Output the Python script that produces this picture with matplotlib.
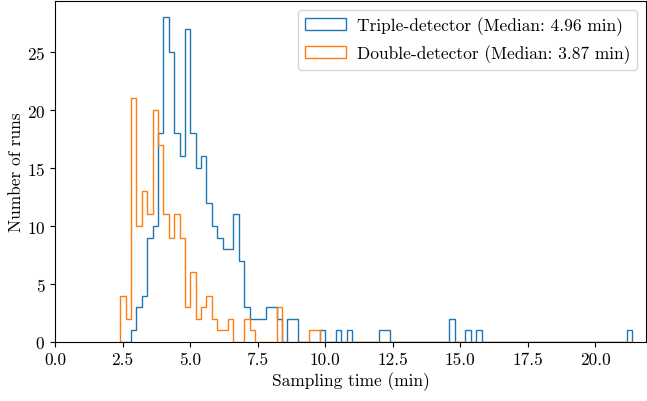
import numpy as np
import matplotlib
matplotlib.use("Agg")
import matplotlib.pyplot as plt

plt.rcParams['font.family'] = 'serif'
plt.rcParams['font.serif'] = ['cmr10', 'DejaVu Serif']
plt.rcParams['mathtext.fontset'] = 'cm'
plt.rcParams['axes.formatter.use_mathtext'] = True

# Shared bin edges (min)
bin_start = 2.414
bin_stop = 21.38
n_bins = 95

# Counts per bin (index -> count)
triple_counts = {
    2: 1, 3: 3, 4: 4, 5: 9, 6: 10, 7: 18, 8: 28, 9: 25, 10: 18, 11: 16,
    12: 27, 13: 18, 14: 15, 15: 16, 16: 12, 17: 10, 18: 9, 19: 8, 20: 8,
    21: 11, 22: 7, 23: 3, 24: 2, 25: 2, 26: 2, 27: 3, 28: 3, 29: 2,
    31: 2, 32: 2, 37: 1, 40: 1, 42: 1, 48: 1, 49: 1, 61: 2, 64: 1, 66: 1,
    94: 1,
}
double_counts = {
    0: 4, 1: 2, 2: 21, 3: 10, 4: 13, 5: 11, 6: 20, 7: 17, 8: 11, 9: 9,
    10: 11, 11: 9, 12: 3, 13: 6, 14: 2, 15: 3, 16: 4, 17: 2, 18: 1, 19: 1,
    20: 2, 23: 2, 24: 1, 29: 3, 35: 1, 36: 1,
}
labels = ["Triple-detector (Median: 4.96 min)", "Double-detector (Median: 3.87 min)"]

edges = np.linspace(bin_start, bin_stop, n_bins + 1)
centers = 0.5 * (edges[:-1] + edges[1:])

def weights(d):
    w = np.zeros(n_bins)
    for k, v in d.items():
        w[k] = v
    return w

fig = plt.figure(figsize=(6.47, 4.02), dpi=100)
ax = fig.add_axes([55 / 647, 59 / 402, 591 / 647, 341 / 402])

ax.hist(centers, bins=edges, weights=weights(triple_counts), histtype='step',
        color='tab:blue', linewidth=1.0, label=labels[0])
ax.hist(centers, bins=edges, weights=weights(double_counts), histtype='step',
        color='tab:orange', linewidth=1.0, label=labels[1])

ax.set_xlim(0, 21.88)
ax.set_xticks(np.arange(0, 21, 2.5))
ax.set_xticklabels([f"{v:.1f}" for v in np.arange(0, 21, 2.5)])
ax.set_xlabel("Sampling time (min)", fontsize=12.5, labelpad=3)
ax.set_ylabel("Number of runs", fontsize=12.5, labelpad=2)
ax.tick_params(labelsize=12.5)
ax.legend(loc='upper right', fontsize=12.5, handlelength=2.4, handletextpad=0.6,
          borderaxespad=0.5)

fig.savefig("out.png", dpi=100)
